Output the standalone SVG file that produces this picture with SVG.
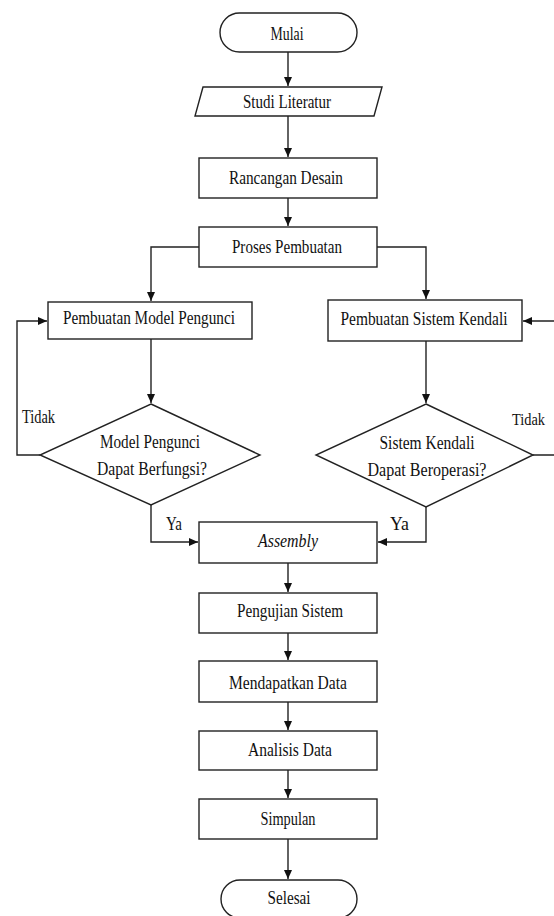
<svg xmlns="http://www.w3.org/2000/svg" width="554" height="916" viewBox="0 0 554 916">
<style>
.s{fill:#fff;stroke:#222;stroke-width:1.4}
.c{fill:none;stroke:#222;stroke-width:1.4}
.t{font-family:"Liberation Serif","Times New Roman",serif;font-size:19px;fill:#111;text-anchor:middle}
.l{font-family:"Liberation Serif","Times New Roman",serif;font-size:19px;fill:#111}
.i{font-style:italic}
</style>
<defs>
<marker id="a" markerUnits="userSpaceOnUse" markerWidth="10" markerHeight="10" refX="9" refY="4" orient="auto">
<path d="M0,0 L9,4 L0,8 Z" fill="#111"/>
</marker>
</defs>
<rect width="554" height="916" fill="#fff"/>
<g id="connectors">
<path class="c" d="M288,52 V86" marker-end="url(#a)"/>
<path class="c" d="M288,116 V157" marker-end="url(#a)"/>
<path class="c" d="M288,198 V226" marker-end="url(#a)"/>
<path class="c" d="M199,247 H151 V301" marker-end="url(#a)"/>
<path class="c" d="M377,247 H426 V299" marker-end="url(#a)"/>
<path class="c" d="M151,339 V403" marker-end="url(#a)"/>
<path class="c" d="M426,341 V403" marker-end="url(#a)"/>
<path class="c" d="M40,455 H17 V321 H47" marker-end="url(#a)"/>
<path class="c" d="M533,455 H562 V321 H523" marker-end="url(#a)"/>
<path class="c" d="M151,505 V542 H198" marker-end="url(#a)"/>
<path class="c" d="M426,507 V542 H378" marker-end="url(#a)"/>
<path class="c" d="M288,563 V592" marker-end="url(#a)"/>
<path class="c" d="M288,633 V660" marker-end="url(#a)"/>
<path class="c" d="M288,702 V730" marker-end="url(#a)"/>
<path class="c" d="M288,770 V798" marker-end="url(#a)"/>
<path class="c" d="M288,839 V879" marker-end="url(#a)"/>
</g>
<g id="mulai">
<rect class="s" x="220" y="13" width="137" height="39" rx="19.5"/>
<text class="t" x="287" y="40" textLength="33" lengthAdjust="spacingAndGlyphs">Mulai</text>
</g>
<g id="studi">
<polygon class="s" points="203,87 382,87 374,116 195,116"/>
<text class="t" x="287" y="108" textLength="88" lengthAdjust="spacingAndGlyphs">Studi Literatur</text>
</g>
<g id="rancangan">
<rect class="s" x="199" y="158" width="178" height="40"/>
<text class="t" x="286" y="184" textLength="114" lengthAdjust="spacingAndGlyphs">Rancangan Desain</text>
</g>
<g id="proses">
<rect class="s" x="199" y="227" width="178" height="40"/>
<text class="t" x="287" y="253" textLength="110" lengthAdjust="spacingAndGlyphs">Proses Pembuatan</text>
</g>
<g id="model">
<rect class="s" x="48" y="302" width="204" height="37"/>
<text class="t" x="149" y="324" textLength="172" lengthAdjust="spacingAndGlyphs">Pembuatan Model Pengunci</text>
</g>
<g id="sistem">
<rect class="s" x="328" y="300" width="194" height="41"/>
<text class="t" x="424" y="325" textLength="167" lengthAdjust="spacingAndGlyphs">Pembuatan Sistem Kendali</text>
</g>
<g id="cek-model">
<polygon class="s" points="151,404 260,455 151,505 40,455"/>
<text class="t" x="150" y="448" textLength="100" lengthAdjust="spacingAndGlyphs">Model Pengunci</text>
<text class="t" x="152" y="475" textLength="110" lengthAdjust="spacingAndGlyphs">Dapat Berfungsi?</text>
</g>
<g id="cek-sistem">
<polygon class="s" points="426,404 533,455 426,507 316,455"/>
<text class="t" x="427" y="449" textLength="95" lengthAdjust="spacingAndGlyphs">Sistem Kendali</text>
<text class="t" x="427" y="476" textLength="119" lengthAdjust="spacingAndGlyphs">Dapat Beroperasi?</text>
</g>
<g id="labels">
<text class="l" x="22" y="423" textLength="33" lengthAdjust="spacingAndGlyphs">Tidak</text>
<text class="l" x="512" y="425" style="font-size:17px" textLength="33" lengthAdjust="spacingAndGlyphs">Tidak</text>
<text class="l" x="166" y="530" textLength="16" lengthAdjust="spacingAndGlyphs">Ya</text>
<text class="l" x="390" y="530" textLength="19" lengthAdjust="spacingAndGlyphs">Ya</text>
</g>
<g id="assembly">
<rect class="s" x="199" y="522" width="178" height="41"/>
<text class="t i" x="288" y="547" textLength="60" lengthAdjust="spacingAndGlyphs">Assembly</text>
</g>
<g id="pengujian">
<rect class="s" x="199" y="593" width="178" height="40"/>
<text class="t" x="290" y="617" textLength="106" lengthAdjust="spacingAndGlyphs">Pengujian Sistem</text>
</g>
<g id="mendapatkan">
<rect class="s" x="199" y="661" width="178" height="41"/>
<text class="t" x="288" y="689" textLength="118" lengthAdjust="spacingAndGlyphs">Mendapatkan Data</text>
</g>
<g id="analisis">
<rect class="s" x="199" y="731" width="178" height="39"/>
<text class="t" x="290" y="756" textLength="84" lengthAdjust="spacingAndGlyphs">Analisis Data</text>
</g>
<g id="simpulan">
<rect class="s" x="199" y="799" width="178" height="40"/>
<text class="t" x="288" y="825" textLength="55" lengthAdjust="spacingAndGlyphs">Simpulan</text>
</g>
<g id="selesai">
<rect class="s" x="221" y="880" width="136" height="38" rx="19"/>
<text class="t" x="289" y="904" textLength="43" lengthAdjust="spacingAndGlyphs">Selesai</text>
</g>
</svg>
